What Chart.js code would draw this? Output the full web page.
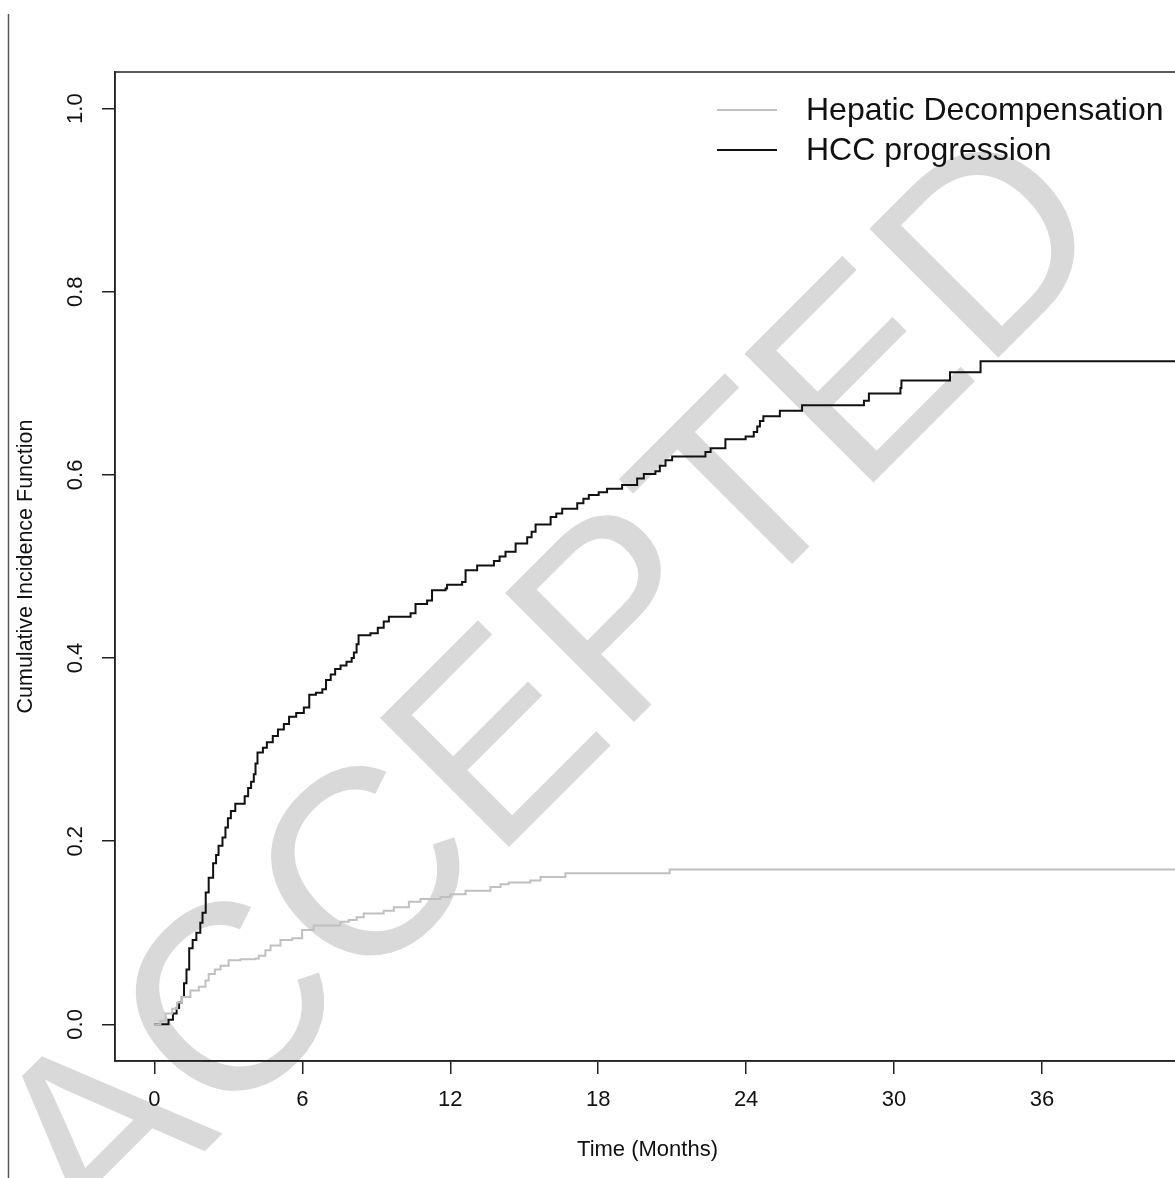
<!DOCTYPE html>
<html lang="en">
<head>
    <meta charset="UTF-8">
    <title>Cumulative Incidence - Hepatic Decompensation vs HCC progression</title>
    <style>
        html, body {
            margin: 0;
            padding: 0;
            background: #fff;
            overflow: hidden;
        }
        #cifChart {
            position: absolute;
            left: 0;
            top: 0;
        }
    </style>
    <script src="https://cdn.jsdelivr.net/npm/chart.js"></script>
</head>
<body>
    <canvas id="cifChart" width="1190" height="1178"></canvas>

    <script>
        // step times (months) and cumulative incidence after each step
        const hccTime = [0, 0.57, 0.75, 0.9, 1.0, 1.11, 1.2, 1.3, 1.41, 1.55, 1.7, 1.86, 1.95, 2.08, 2.2, 2.38, 2.5, 2.6, 2.76, 2.88,
            2.98, 3.1, 3.28, 3.66, 3.8, 3.92, 4.03, 4.1, 4.18, 4.4, 4.56, 4.8, 5.01, 5.25, 5.46, 5.75, 6.06, 6.28, 6.55, 6.81,
            6.96, 7.15, 7.33, 7.55, 7.79, 8.0, 8.09, 8.2, 8.28, 8.76, 9.06, 9.3, 9.51, 10.39, 10.59, 11.06, 11.26, 11.81, 11.87, 12.48,
            12.62, 13.09, 13.77, 14.0, 14.24, 14.65, 15.12, 15.3, 15.46, 16.07, 16.3, 16.54, 17.15, 17.4, 17.62, 18.02, 18.36, 18.97, 19.58, 19.85,
            20.32, 20.5, 20.73, 21.0, 22.35, 22.56, 23.16, 23.98, 24.31, 24.45, 24.56, 24.7, 25.37, 26.27, 28.78, 28.98, 30.26, 30.3, 32.27, 33.51,
            41.6];
        const hccCif = [0, 0.005, 0.012, 0.018, 0.024, 0.030, 0.045, 0.060, 0.083, 0.092, 0.100, 0.111, 0.122, 0.144, 0.160, 0.176, 0.185, 0.195, 0.204, 0.215,
            0.225, 0.233, 0.241, 0.249, 0.258, 0.265, 0.273, 0.285, 0.297, 0.302, 0.308, 0.315, 0.322, 0.328, 0.336, 0.340, 0.346, 0.360, 0.362, 0.366,
            0.376, 0.382, 0.388, 0.392, 0.396, 0.400, 0.406, 0.415, 0.425, 0.427, 0.433, 0.440, 0.445, 0.449, 0.459, 0.463, 0.474, 0.476, 0.480, 0.483,
            0.496, 0.501, 0.506, 0.511, 0.516, 0.525, 0.532, 0.538, 0.546, 0.554, 0.558, 0.563, 0.569, 0.574, 0.578, 0.581, 0.585, 0.589, 0.596, 0.601,
            0.604, 0.610, 0.616, 0.620, 0.625, 0.629, 0.639, 0.642, 0.647, 0.653, 0.659, 0.664, 0.670, 0.676, 0.681, 0.689, 0.695, 0.703, 0.712, 0.724,
            0.724];

        const decompTime = [0, 0.24, 0.45, 0.72, 0.92, 1.12, 1.46, 1.8, 2.07, 2.2, 2.45, 2.68, 3.01, 3.49, 4.1, 4.23, 4.5, 4.71, 5.11, 5.59,
            5.99, 6.46, 7.54, 7.88, 8.2, 8.49, 9.3, 9.71, 10.32, 10.79, 11.6, 12.0, 12.62, 13.63, 14.04, 14.37, 15.25, 15.66, 16.67, 20.9,
            41.6];
        const decompCif = [0, 0.004, 0.012, 0.017, 0.024, 0.030, 0.037, 0.041, 0.048, 0.055, 0.060, 0.064, 0.070, 0.071, 0.072, 0.075, 0.081, 0.086, 0.092, 0.094,
            0.103, 0.108, 0.112, 0.114, 0.117, 0.121, 0.124, 0.128, 0.134, 0.137, 0.139, 0.142, 0.146, 0.150, 0.153, 0.155, 0.157, 0.161, 0.165, 0.169,
            0.169];

        const xTicks = [0, 6, 12, 18, 24, 30, 36];
        const yTicks = [0, 0.2, 0.4, 0.6, 0.8, 1.0];
        const seriesNames = ['Hepatic Decompensation', 'HCC progression'];
        const watermark = 'ACCEPTED';

        const FONT = '"Liberation Sans", Arial, Helvetica, sans-serif';

        function toPoints(times, values) {
            return times.map((t, i) => ({ x: t, y: values[i] }));
        }

        // background, page edge and the big watermark go under everything
        const paperPlugin = {
            id: 'paper',
            beforeDraw(chart) {
                const c = chart.ctx;
                c.save();
                c.fillStyle = '#fff';
                c.fillRect(0, 0, chart.width, chart.height);

                c.strokeStyle = '#555';
                c.lineWidth = 1.5;
                c.beginPath();
                c.moveTo(8.5, 14);
                c.lineTo(8.5, chart.height);
                c.stroke();

                c.translate(98, 1258);
                c.rotate(-Math.PI / 4);
                c.font = '265px ' + FONT;
                c.fillStyle = '#d9d9d9';
                c.textBaseline = 'alphabetic';
                c.fillText(watermark, 0, 0);
                c.restore();
            },
            afterDraw(chart) {
                const c = chart.ctx;
                const area = chart.chartArea;
                const xs = chart.scales.x;
                const ys = chart.scales.y;
                c.save();

                // R style full box
                c.strokeStyle = '#222';
                c.lineWidth = 1.5;
                c.strokeRect(area.left, area.top, area.right - area.left, area.bottom - area.top);

                c.fillStyle = '#111';
                c.font = '22px ' + FONT;
                c.textAlign = 'center';
                c.textBaseline = 'middle';

                xTicks.forEach(v => {
                    c.fillText(String(v), xs.getPixelForValue(v), 1100);
                });

                yTicks.forEach(v => {
                    c.save();
                    c.translate(76, ys.getPixelForValue(v));
                    c.rotate(-Math.PI / 2);
                    c.fillText(v.toFixed(1), 0, 0);
                    c.restore();
                });

                // axis titles
                c.fillText('Time (Months)', (area.left + area.right) / 2, 1150);
                c.save();
                c.font = '21.5px ' + FONT;
                c.translate(26, (area.top + area.bottom) / 2);
                c.rotate(-Math.PI / 2);
                c.fillText('Cumulative Incidence Function', 0, 0);
                c.restore();

                // legend, top right
                c.font = '32px ' + FONT;
                c.textAlign = 'left';
                const rows = [110, 150];
                chart.data.datasets.forEach((ds, i) => {
                    c.strokeStyle = ds.borderColor;
                    c.lineWidth = 2;
                    c.beginPath();
                    c.moveTo(717, rows[i]);
                    c.lineTo(777, rows[i]);
                    c.stroke();
                    c.fillStyle = '#111';
                    c.fillText(ds.label, 806, rows[i] + 1);
                });

                c.restore();
            }
        };

        const ctx = document.getElementById('cifChart').getContext('2d');
        const cifChart = new Chart(ctx, {
            type: 'line',
            data: {
                datasets: [
                    {
                        label: seriesNames[0],
                        data: toPoints(decompTime, decompCif),
                        borderColor: '#c0c0c0',
                        borderWidth: 2,
                        stepped: 'before',
                        pointRadius: 0,
                        fill: false
                    },
                    {
                        label: seriesNames[1],
                        data: toPoints(hccTime, hccCif),
                        borderColor: '#111',
                        borderWidth: 2,
                        stepped: 'before',
                        pointRadius: 0,
                        fill: false
                    }
                ]
            },
            options: {
                responsive: false,
                animation: false,
                devicePixelRatio: 1,
                layout: {
                    padding: { left: 0, top: 72, right: 10, bottom: 0 }
                },
                plugins: {
                    legend: { display: false },
                    tooltip: { enabled: false }
                },
                scales: {
                    x: {
                        type: 'linear',
                        min: -1.6,
                        max: 41.6,
                        afterBuildTicks: scale => {
                            scale.ticks = xTicks.map(v => ({ value: v }));
                        },
                        afterFit: scale => {
                            scale.height = 117;
                        },
                        ticks: { display: false },
                        grid: {
                            drawOnChartArea: false,
                            drawTicks: true,
                            tickLength: 13,
                            color: '#222',
                            lineWidth: 1.5
                        },
                        border: { display: true, color: '#222', width: 1.5 }
                    },
                    y: {
                        type: 'linear',
                        min: -0.04,
                        max: 1.04,
                        afterBuildTicks: scale => {
                            scale.ticks = yTicks.map(v => ({ value: v }));
                        },
                        afterFit: scale => {
                            scale.width = 115;
                        },
                        ticks: { display: false },
                        grid: {
                            drawOnChartArea: false,
                            drawTicks: true,
                            tickLength: 13,
                            color: '#222',
                            lineWidth: 1.5
                        },
                        border: { display: true, color: '#222', width: 1.5 }
                    }
                }
            },
            plugins: [paperPlugin]
        });
    </script>
</body>
</html>
